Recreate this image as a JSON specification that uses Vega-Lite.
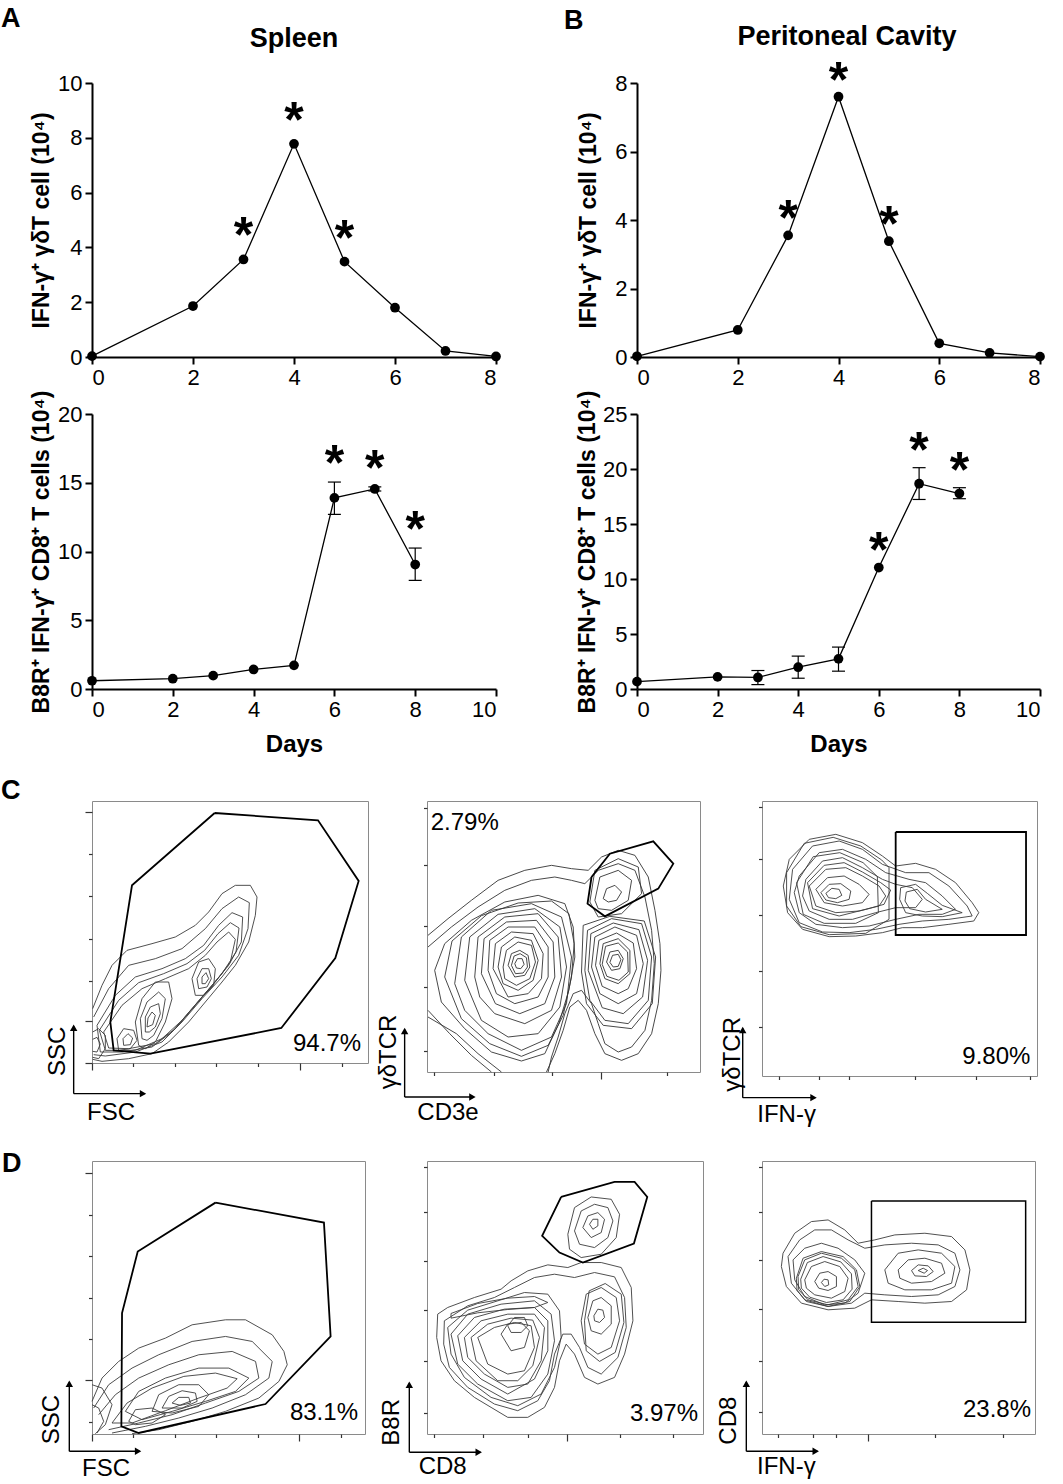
{
  "$schema": "https://vega.github.io/schema/vega-lite/v6.json",
  "padding": {"left": 0, "top": 5, "right": 5, "bottom": 5},
  "config": {
    "font": "Liberation Sans",
    "view": {"stroke": null},
    "axis": {"domainColor": "black", "domainWidth": 2, "tickColor": "black", "tickWidth": 2, "tickSize": 7, "labelFontSize": 22, "labelColor": "black", "labelPadding": 3, "titleFontSize": 23, "titleFontWeight": "bold", "titleColor": "black", "grid": false}
  },
  "datasets": {
    "spleen_g": [
      {"day": 0, "v": 0.03, "lo": 0.03, "hi": 0.03, "sig": false},
      {"day": 2, "v": 1.86, "lo": 1.86, "hi": 1.86, "sig": false},
      {"day": 3, "v": 3.56, "lo": 3.56, "hi": 3.56, "sig": true},
      {"day": 4, "v": 7.78, "lo": 7.78, "hi": 7.78, "sig": true},
      {"day": 5, "v": 3.48, "lo": 3.48, "hi": 3.48, "sig": true},
      {"day": 6, "v": 1.8, "lo": 1.8, "hi": 1.8, "sig": false},
      {"day": 7, "v": 0.22, "lo": 0.22, "hi": 0.22, "sig": false},
      {"day": 8, "v": 0.02, "lo": 0.02, "hi": 0.02, "sig": false}
    ],
    "spleen_c": [
      {"day": 0, "v": 0.6, "lo": 0.6, "hi": 0.6, "sig": false},
      {"day": 2, "v": 0.75, "lo": 0.75, "hi": 0.75, "sig": false},
      {"day": 3, "v": 0.97, "lo": 0.97, "hi": 0.97, "sig": false},
      {"day": 4, "v": 1.42, "lo": 1.42, "hi": 1.42, "sig": false},
      {"day": 5, "v": 1.72, "lo": 1.72, "hi": 1.72, "sig": false},
      {"day": 6, "v": 13.9, "lo": 12.7, "hi": 15.05, "sig": true},
      {"day": 7, "v": 14.55, "lo": 14.4, "hi": 14.7, "sig": true},
      {"day": 8, "v": 9.05, "lo": 7.9, "hi": 10.25, "sig": true}
    ],
    "pc_g": [
      {"day": 0, "v": 0.02, "lo": 0.02, "hi": 0.02, "sig": false},
      {"day": 2, "v": 0.79, "lo": 0.79, "hi": 0.79, "sig": false},
      {"day": 3, "v": 3.55, "lo": 3.55, "hi": 3.55, "sig": true},
      {"day": 4, "v": 7.6, "lo": 7.6, "hi": 7.6, "sig": true},
      {"day": 5, "v": 3.38, "lo": 3.38, "hi": 3.38, "sig": true},
      {"day": 6, "v": 0.4, "lo": 0.4, "hi": 0.4, "sig": false},
      {"day": 7, "v": 0.12, "lo": 0.12, "hi": 0.12, "sig": false},
      {"day": 8, "v": 0.01, "lo": 0.01, "hi": 0.01, "sig": false}
    ],
    "pc_c": [
      {"day": 0, "v": 0.67, "lo": 0.67, "hi": 0.67, "sig": false},
      {"day": 2, "v": 1.1, "lo": 1.1, "hi": 1.1, "sig": false},
      {"day": 3, "v": 1.05, "lo": 0.4, "hi": 1.68, "sig": false},
      {"day": 4, "v": 1.98, "lo": 0.98, "hi": 2.99, "sig": false},
      {"day": 5, "v": 2.74, "lo": 1.62, "hi": 3.81, "sig": false},
      {"day": 6, "v": 11.04, "lo": 11.04, "hi": 11.04, "sig": true},
      {"day": 7, "v": 18.66, "lo": 17.23, "hi": 20.12, "sig": true},
      {"day": 8, "v": 17.77, "lo": 17.3, "hi": 18.3, "sig": true}
    ],
    "gates": [
      {"p":"C1","x":658,"y":133},{"p":"C1","x":968,"y":155},{"p":"C1","x":1090,"y":337},{"p":"C1","x":1020,"y":568},{"p":"C1","x":858,"y":778},{"p":"C1","x":465,"y":855},{"p":"C1","x":355,"y":845},{"p":"C1","x":345,"y":760},{"p":"C1","x":372,"y":590},{"p":"C1","x":410,"y":350},{"p":"C1","x":658,"y":133},
      {"p":"C2","x":680,"y":320},{"p":"C2","x":735,"y":250},{"p":"C2","x":865,"y":213},{"p":"C2","x":925,"y":280},{"p":"C2","x":880,"y":355},{"p":"C2","x":720,"y":438},{"p":"C2","x":668,"y":400},{"p":"C2","x":680,"y":320},
      {"p":"C3","x":560,"y":178},{"p":"C3","x":952,"y":178},{"p":"C3","x":952,"y":487},{"p":"C3","x":560,"y":487},{"p":"C3","x":560,"y":178},
      {"p":"D1","x":670,"y":243},{"p":"D1","x":995,"y":303},{"p":"D1","x":1015,"y":645},{"p":"D1","x":820,"y":848},{"p":"D1","x":440,"y":935},{"p":"D1","x":388,"y":915},{"p":"D1","x":390,"y":575},{"p":"D1","x":437,"y":390},{"p":"D1","x":670,"y":243},
      {"p":"D2","x":580,"y":228},{"p":"D2","x":740,"y":183},{"p":"D2","x":800,"y":183},{"p":"D2","x":838,"y":228},{"p":"D2","x":798,"y":368},{"p":"D2","x":645,"y":425},{"p":"D2","x":575,"y":395},{"p":"D2","x":523,"y":345},{"p":"D2","x":580,"y":228},
      {"p":"D3","x":480,"y":243},{"p":"D3","x":942,"y":243},{"p":"D3","x":942,"y":607},{"p":"D3","x":480,"y":607},{"p":"D3","x":480,"y":243}
    ],
    "ct": [
      {"p":"C1","k":1,"x":292,"y":720},{"p":"C1","k":1,"x":320,"y":650},{"p":"C1","k":1,"x":350,"y":590},{"p":"C1","k":1,"x":395,"y":545},{"p":"C1","k":1,"x":470,"y":525},{"p":"C1","k":1,"x":540,"y":505},{"p":"C1","k":1,"x":600,"y":470},{"p":"C1","k":1,"x":640,"y":430},{"p":"C1","k":1,"x":680,"y":375},{"p":"C1","k":1,"x":720,"y":350},{"p":"C1","k":1,"x":765,"y":350},{"p":"C1","k":1,"x":785,"y":385},{"p":"C1","k":1,"x":780,"y":440},{"p":"C1","k":1,"x":760,"y":520},{"p":"C1","k":1,"x":720,"y":590},{"p":"C1","k":1,"x":680,"y":640},{"p":"C1","k":1,"x":630,"y":700},{"p":"C1","k":1,"x":580,"y":760},{"p":"C1","k":1,"x":520,"y":820},{"p":"C1","k":1,"x":470,"y":855},{"p":"C1","k":1,"x":400,"y":870},{"p":"C1","k":1,"x":320,"y":878},{"p":"C1","k":1,"x":292,"y":872},
      {"p":"C1","k":2,"x":295,"y":745},{"p":"C1","k":2,"x":340,"y":660},{"p":"C1","k":2,"x":400,"y":590},{"p":"C1","k":2,"x":480,"y":570},{"p":"C1","k":2,"x":560,"y":540},{"p":"C1","k":2,"x":630,"y":480},{"p":"C1","k":2,"x":680,"y":420},{"p":"C1","k":2,"x":730,"y":385},{"p":"C1","k":2,"x":762,"y":402},{"p":"C1","k":2,"x":758,"y":480},{"p":"C1","k":2,"x":730,"y":560},{"p":"C1","k":2,"x":680,"y":625},{"p":"C1","k":2,"x":620,"y":690},{"p":"C1","k":2,"x":560,"y":760},{"p":"C1","k":2,"x":500,"y":820},{"p":"C1","k":2,"x":420,"y":850},{"p":"C1","k":2,"x":330,"y":862},{"p":"C1","k":2,"x":295,"y":858},
      {"p":"C1","k":3,"x":305,"y":770},{"p":"C1","k":3,"x":360,"y":680},{"p":"C1","k":3,"x":420,"y":625},{"p":"C1","k":3,"x":500,"y":600},{"p":"C1","k":3,"x":570,"y":570},{"p":"C1","k":3,"x":625,"y":530},{"p":"C1","k":3,"x":670,"y":470},{"p":"C1","k":3,"x":710,"y":432},{"p":"C1","k":3,"x":742,"y":445},{"p":"C1","k":3,"x":738,"y":520},{"p":"C1","k":3,"x":700,"y":590},{"p":"C1","k":3,"x":650,"y":650},{"p":"C1","k":3,"x":590,"y":720},{"p":"C1","k":3,"x":530,"y":790},{"p":"C1","k":3,"x":470,"y":835},{"p":"C1","k":3,"x":380,"y":850},{"p":"C1","k":3,"x":315,"y":850},{"p":"C1","k":3,"x":305,"y":770},
      {"p":"C1","k":4,"x":325,"y":790},{"p":"C1","k":4,"x":380,"y":710},{"p":"C1","k":4,"x":440,"y":660},{"p":"C1","k":4,"x":510,"y":630},{"p":"C1","k":4,"x":580,"y":600},{"p":"C1","k":4,"x":630,"y":560},{"p":"C1","k":4,"x":665,"y":520},{"p":"C1","k":4,"x":700,"y":490},{"p":"C1","k":4,"x":720,"y":512},{"p":"C1","k":4,"x":705,"y":580},{"p":"C1","k":4,"x":660,"y":640},{"p":"C1","k":4,"x":600,"y":710},{"p":"C1","k":4,"x":540,"y":780},{"p":"C1","k":4,"x":480,"y":825},{"p":"C1","k":4,"x":400,"y":840},{"p":"C1","k":4,"x":340,"y":838},{"p":"C1","k":4,"x":325,"y":790},
      {"p":"C1","k":5,"x":430,"y":830},{"p":"C1","k":5,"x":420,"y":760},{"p":"C1","k":5,"x":440,"y":690},{"p":"C1","k":5,"x":480,"y":640},{"p":"C1","k":5,"x":520,"y":640},{"p":"C1","k":5,"x":530,"y":690},{"p":"C1","k":5,"x":510,"y":760},{"p":"C1","k":5,"x":480,"y":820},{"p":"C1","k":5,"x":450,"y":840},{"p":"C1","k":5,"x":430,"y":830},
      {"p":"C1","k":6,"x":440,"y":810},{"p":"C1","k":6,"x":435,"y":750},{"p":"C1","k":6,"x":455,"y":700},{"p":"C1","k":6,"x":490,"y":670},{"p":"C1","k":6,"x":510,"y":690},{"p":"C1","k":6,"x":500,"y":750},{"p":"C1","k":6,"x":475,"y":800},{"p":"C1","k":6,"x":455,"y":815},{"p":"C1","k":6,"x":440,"y":810},
      {"p":"C1","k":7,"x":450,"y":790},{"p":"C1","k":7,"x":450,"y":745},{"p":"C1","k":7,"x":465,"y":715},{"p":"C1","k":7,"x":490,"y":705},{"p":"C1","k":7,"x":495,"y":735},{"p":"C1","k":7,"x":480,"y":775},{"p":"C1","k":7,"x":462,"y":790},{"p":"C1","k":7,"x":450,"y":790},
      {"p":"C1","k":8,"x":455,"y":775},{"p":"C1","k":8,"x":458,"y":748},{"p":"C1","k":8,"x":470,"y":730},{"p":"C1","k":8,"x":480,"y":740},{"p":"C1","k":8,"x":472,"y":768},{"p":"C1","k":8,"x":455,"y":775},
      {"p":"C1","k":9,"x":600,"y":680},{"p":"C1","k":9,"x":590,"y":630},{"p":"C1","k":9,"x":610,"y":580},{"p":"C1","k":9,"x":640,"y":570},{"p":"C1","k":9,"x":660,"y":600},{"p":"C1","k":9,"x":655,"y":650},{"p":"C1","k":9,"x":625,"y":680},{"p":"C1","k":9,"x":600,"y":680},
      {"p":"C1","k":10,"x":610,"y":660},{"p":"C1","k":10,"x":605,"y":630},{"p":"C1","k":10,"x":620,"y":600},{"p":"C1","k":10,"x":640,"y":600},{"p":"C1","k":10,"x":648,"y":630},{"p":"C1","k":10,"x":635,"y":655},{"p":"C1","k":10,"x":610,"y":660},
      {"p":"C1","k":11,"x":620,"y":645},{"p":"C1","k":11,"x":620,"y":625},{"p":"C1","k":11,"x":632,"y":612},{"p":"C1","k":11,"x":640,"y":630},{"p":"C1","k":11,"x":630,"y":645},{"p":"C1","k":11,"x":620,"y":645},
      {"p":"C1","k":12,"x":370,"y":845},{"p":"C1","k":12,"x":365,"y":810},{"p":"C1","k":12,"x":385,"y":780},{"p":"C1","k":12,"x":415,"y":785},{"p":"C1","k":12,"x":425,"y":815},{"p":"C1","k":12,"x":405,"y":840},{"p":"C1","k":12,"x":370,"y":845},
      {"p":"C1","k":13,"x":385,"y":830},{"p":"C1","k":13,"x":383,"y":810},{"p":"C1","k":13,"x":398,"y":795},{"p":"C1","k":13,"x":412,"y":808},{"p":"C1","k":13,"x":405,"y":828},{"p":"C1","k":13,"x":385,"y":830},
      {"p":"C1","k":14,"x":292,"y":790},{"p":"C1","k":14,"x":310,"y":780},{"p":"C1","k":14,"x":330,"y":800},{"p":"C1","k":14,"x":330,"y":840},{"p":"C1","k":14,"x":310,"y":870},{"p":"C1","k":14,"x":292,"y":866},
      {"p":"C1","k":15,"x":292,"y":812},{"p":"C1","k":15,"x":305,"y":806},{"p":"C1","k":15,"x":315,"y":826},{"p":"C1","k":15,"x":305,"y":850},{"p":"C1","k":15,"x":292,"y":848},
      {"p":"C1","k":16,"x":312,"y":785},{"p":"C1","k":16,"x":370,"y":695},{"p":"C1","k":16,"x":430,"y":642},{"p":"C1","k":16,"x":505,"y":615},{"p":"C1","k":16,"x":575,"y":585},{"p":"C1","k":16,"x":628,"y":545},{"p":"C1","k":16,"x":668,"y":495},{"p":"C1","k":16,"x":705,"y":462},{"p":"C1","k":16,"x":731,"y":478},{"p":"C1","k":16,"x":722,"y":550},{"p":"C1","k":16,"x":680,"y":615},{"p":"C1","k":16,"x":620,"y":685},{"p":"C1","k":16,"x":560,"y":755},{"p":"C1","k":16,"x":500,"y":810},{"p":"C1","k":16,"x":420,"y":845},{"p":"C1","k":16,"x":330,"y":845},{"p":"C1","k":16,"x":312,"y":785},

      {"p":"C2","k":1,"x":190,"y":495},{"p":"C2","k":1,"x":250,"y":445},{"p":"C2","k":1,"x":320,"y":390},{"p":"C2","k":1,"x":400,"y":330},{"p":"C2","k":1,"x":480,"y":300},{"p":"C2","k":1,"x":560,"y":285},{"p":"C2","k":1,"x":620,"y":295},{"p":"C2","k":1,"x":670,"y":300},{"p":"C2","k":1,"x":710,"y":260},{"p":"C2","k":1,"x":760,"y":240},{"p":"C2","k":1,"x":810,"y":255},{"p":"C2","k":1,"x":850,"y":320},{"p":"C2","k":1,"x":870,"y":420},{"p":"C2","k":1,"x":885,"y":520},{"p":"C2","k":1,"x":888,"y":600},{"p":"C2","k":1,"x":880,"y":700},{"p":"C2","k":1,"x":860,"y":790},{"p":"C2","k":1,"x":820,"y":850},{"p":"C2","k":1,"x":770,"y":870},{"p":"C2","k":1,"x":720,"y":850},{"p":"C2","k":1,"x":690,"y":790},{"p":"C2","k":1,"x":665,"y":720},{"p":"C2","k":1,"x":640,"y":690},{"p":"C2","k":1,"x":615,"y":710},{"p":"C2","k":1,"x":595,"y":780},{"p":"C2","k":1,"x":570,"y":850},{"p":"C2","k":1,"x":545,"y":905},
      {"p":"C2","k":2,"x":380,"y":905},{"p":"C2","k":2,"x":320,"y":855},{"p":"C2","k":2,"x":255,"y":790},{"p":"C2","k":2,"x":190,"y":720},
      {"p":"C2","k":3,"x":190,"y":530},{"p":"C2","k":3,"x":260,"y":470},{"p":"C2","k":3,"x":340,"y":410},{"p":"C2","k":3,"x":420,"y":360},{"p":"C2","k":3,"x":500,"y":330},{"p":"C2","k":3,"x":570,"y":320},{"p":"C2","k":3,"x":620,"y":330},{"p":"C2","k":3,"x":660,"y":340},{"p":"C2","k":3,"x":700,"y":300},{"p":"C2","k":3,"x":760,"y":280},{"p":"C2","k":3,"x":810,"y":300},{"p":"C2","k":3,"x":840,"y":380},{"p":"C2","k":3,"x":860,"y":480},{"p":"C2","k":3,"x":868,"y":580},{"p":"C2","k":3,"x":860,"y":690},{"p":"C2","k":3,"x":840,"y":780},{"p":"C2","k":3,"x":800,"y":830},{"p":"C2","k":3,"x":760,"y":845},{"p":"C2","k":3,"x":720,"y":820},{"p":"C2","k":3,"x":700,"y":760},{"p":"C2","k":3,"x":680,"y":700},{"p":"C2","k":3,"x":650,"y":660},{"p":"C2","k":3,"x":625,"y":670},{"p":"C2","k":3,"x":600,"y":730},{"p":"C2","k":3,"x":580,"y":800},{"p":"C2","k":3,"x":560,"y":860},{"p":"C2","k":3,"x":550,"y":905},
      {"p":"C2","k":4,"x":410,"y":905},{"p":"C2","k":4,"x":340,"y":850},{"p":"C2","k":4,"x":275,"y":790},{"p":"C2","k":4,"x":190,"y":740},
      {"p":"C2","k":5,"x":270,"y":640},{"p":"C2","k":5,"x":290,"y":500},{"p":"C2","k":5,"x":380,"y":420},{"p":"C2","k":5,"x":500,"y":400},{"p":"C2","k":5,"x":590,"y":440},{"p":"C2","k":5,"x":620,"y":560},{"p":"C2","k":5,"x":605,"y":700},{"p":"C2","k":5,"x":560,"y":800},{"p":"C2","k":5,"x":470,"y":840},{"p":"C2","k":5,"x":370,"y":790},{"p":"C2","k":5,"x":300,"y":720},{"p":"C2","k":5,"x":270,"y":640},
      {"p":"C2","k":6,"x":330,"y":620},{"p":"C2","k":6,"x":340,"y":500},{"p":"C2","k":6,"x":420,"y":440},{"p":"C2","k":6,"x":520,"y":430},{"p":"C2","k":6,"x":580,"y":500},{"p":"C2","k":6,"x":590,"y":620},{"p":"C2","k":6,"x":560,"y":720},{"p":"C2","k":6,"x":480,"y":760},{"p":"C2","k":6,"x":390,"y":730},{"p":"C2","k":6,"x":345,"y":680},{"p":"C2","k":6,"x":330,"y":620},
      {"p":"C2","k":7,"x":370,"y":600},{"p":"C2","k":7,"x":375,"y":510},{"p":"C2","k":7,"x":430,"y":470},{"p":"C2","k":7,"x":510,"y":470},{"p":"C2","k":7,"x":550,"y":530},{"p":"C2","k":7,"x":550,"y":620},{"p":"C2","k":7,"x":520,"y":680},{"p":"C2","k":7,"x":450,"y":700},{"p":"C2","k":7,"x":395,"y":670},{"p":"C2","k":7,"x":370,"y":600},
      {"p":"C2","k":8,"x":400,"y":590},{"p":"C2","k":8,"x":410,"y":530},{"p":"C2","k":8,"x":450,"y":500},{"p":"C2","k":8,"x":500,"y":510},{"p":"C2","k":8,"x":520,"y":570},{"p":"C2","k":8,"x":505,"y":630},{"p":"C2","k":8,"x":460,"y":660},{"p":"C2","k":8,"x":415,"y":640},{"p":"C2","k":8,"x":400,"y":590},
      {"p":"C2","k":9,"x":430,"y":585},{"p":"C2","k":9,"x":440,"y":550},{"p":"C2","k":9,"x":465,"y":540},{"p":"C2","k":9,"x":490,"y":555},{"p":"C2","k":9,"x":495,"y":590},{"p":"C2","k":9,"x":480,"y":615},{"p":"C2","k":9,"x":450,"y":620},{"p":"C2","k":9,"x":430,"y":585},
      {"p":"C2","k":10,"x":450,"y":580},{"p":"C2","k":10,"x":458,"y":565},{"p":"C2","k":10,"x":472,"y":565},{"p":"C2","k":10,"x":478,"y":582},{"p":"C2","k":10,"x":468,"y":595},{"p":"C2","k":10,"x":455,"y":593},{"p":"C2","k":10,"x":450,"y":580},
      {"p":"C2","k":11,"x":660,"y":600},{"p":"C2","k":11,"x":668,"y":480},{"p":"C2","k":11,"x":740,"y":445},{"p":"C2","k":11,"x":830,"y":460},{"p":"C2","k":11,"x":860,"y":560},{"p":"C2","k":11,"x":850,"y":690},{"p":"C2","k":11,"x":790,"y":760},{"p":"C2","k":11,"x":720,"y":750},{"p":"C2","k":11,"x":675,"y":690},{"p":"C2","k":11,"x":660,"y":600},
      {"p":"C2","k":12,"x":680,"y":590},{"p":"C2","k":12,"x":690,"y":500},{"p":"C2","k":12,"x":750,"y":470},{"p":"C2","k":12,"x":815,"y":495},{"p":"C2","k":12,"x":835,"y":580},{"p":"C2","k":12,"x":815,"y":670},{"p":"C2","k":12,"x":760,"y":700},{"p":"C2","k":12,"x":705,"y":670},{"p":"C2","k":12,"x":680,"y":590},
      {"p":"C2","k":13,"x":705,"y":580},{"p":"C2","k":13,"x":715,"y":520},{"p":"C2","k":13,"x":760,"y":505},{"p":"C2","k":13,"x":795,"y":540},{"p":"C2","k":13,"x":795,"y":610},{"p":"C2","k":13,"x":760,"y":640},{"p":"C2","k":13,"x":720,"y":625},{"p":"C2","k":13,"x":705,"y":580},
      {"p":"C2","k":14,"x":725,"y":575},{"p":"C2","k":14,"x":735,"y":545},{"p":"C2","k":14,"x":760,"y":540},{"p":"C2","k":14,"x":775,"y":565},{"p":"C2","k":14,"x":765,"y":595},{"p":"C2","k":14,"x":740,"y":600},{"p":"C2","k":14,"x":725,"y":575},
      {"p":"C2","k":15,"x":675,"y":395},{"p":"C2","k":15,"x":690,"y":300},{"p":"C2","k":15,"x":760,"y":265},{"p":"C2","k":15,"x":820,"y":290},{"p":"C2","k":15,"x":830,"y":370},{"p":"C2","k":15,"x":770,"y":430},{"p":"C2","k":15,"x":700,"y":440},{"p":"C2","k":15,"x":675,"y":395},
      {"p":"C2","k":16,"x":690,"y":390},{"p":"C2","k":16,"x":705,"y":320},{"p":"C2","k":16,"x":760,"y":300},{"p":"C2","k":16,"x":800,"y":330},{"p":"C2","k":16,"x":790,"y":390},{"p":"C2","k":16,"x":740,"y":420},{"p":"C2","k":16,"x":700,"y":415},{"p":"C2","k":16,"x":690,"y":390},
      {"p":"C2","k":17,"x":715,"y":385},{"p":"C2","k":17,"x":725,"y":355},{"p":"C2","k":17,"x":750,"y":345},{"p":"C2","k":17,"x":770,"y":365},{"p":"C2","k":17,"x":755,"y":390},{"p":"C2","k":17,"x":730,"y":395},{"p":"C2","k":17,"x":715,"y":385},
      {"p":"C2","k":18,"x":210,"y":600},{"p":"C2","k":18,"x":240,"y":520},{"p":"C2","k":18,"x":320,"y":450},{"p":"C2","k":18,"x":420,"y":395},{"p":"C2","k":18,"x":520,"y":375},{"p":"C2","k":18,"x":600,"y":400},{"p":"C2","k":18,"x":625,"y":470},{"p":"C2","k":18,"x":630,"y":560},{"p":"C2","k":18,"x":612,"y":660},{"p":"C2","k":18,"x":582,"y":760},{"p":"C2","k":18,"x":540,"y":850},{"p":"C2","k":18,"x":470,"y":872},{"p":"C2","k":18,"x":380,"y":845},{"p":"C2","k":18,"x":300,"y":775},{"p":"C2","k":18,"x":230,"y":695},{"p":"C2","k":18,"x":210,"y":600},
      {"p":"C2","k":19,"x":300,"y":630},{"p":"C2","k":19,"x":315,"y":500},{"p":"C2","k":19,"x":400,"y":432},{"p":"C2","k":19,"x":510,"y":415},{"p":"C2","k":19,"x":585,"y":470},{"p":"C2","k":19,"x":605,"y":590},{"p":"C2","k":19,"x":585,"y":710},{"p":"C2","k":19,"x":520,"y":790},{"p":"C2","k":19,"x":430,"y":800},{"p":"C2","k":19,"x":350,"y":750},{"p":"C2","k":19,"x":300,"y":630},
      {"p":"C2","k":20,"x":670,"y":600},{"p":"C2","k":20,"x":678,"y":490},{"p":"C2","k":20,"x":745,"y":458},{"p":"C2","k":20,"x":822,"y":478},{"p":"C2","k":20,"x":848,"y":570},{"p":"C2","k":20,"x":833,"y":680},{"p":"C2","k":20,"x":775,"y":730},{"p":"C2","k":20,"x":712,"y":712},{"p":"C2","k":20,"x":670,"y":600},
      {"p":"C2","k":21,"x":350,"y":610},{"p":"C2","k":21,"x":358,"y":505},{"p":"C2","k":21,"x":425,"y":455},{"p":"C2","k":21,"x":515,"y":450},{"p":"C2","k":21,"x":565,"y":515},{"p":"C2","k":21,"x":570,"y":620},{"p":"C2","k":21,"x":540,"y":700},{"p":"C2","k":21,"x":465,"y":730},{"p":"C2","k":21,"x":392,"y":700},{"p":"C2","k":21,"x":350,"y":610},
      {"p":"C2","k":22,"x":385,"y":595},{"p":"C2","k":22,"x":392,"y":520},{"p":"C2","k":22,"x":440,"y":485},{"p":"C2","k":22,"x":505,"y":490},{"p":"C2","k":22,"x":535,"y":550},{"p":"C2","k":22,"x":530,"y":625},{"p":"C2","k":22,"x":490,"y":670},{"p":"C2","k":22,"x":430,"y":680},{"p":"C2","k":22,"x":385,"y":595},
      {"p":"C2","k":23,"x":692,"y":585},{"p":"C2","k":23,"x":702,"y":510},{"p":"C2","k":23,"x":755,"y":488},{"p":"C2","k":23,"x":805,"y":518},{"p":"C2","k":23,"x":815,"y":595},{"p":"C2","k":23,"x":790,"y":655},{"p":"C2","k":23,"x":760,"y":670},{"p":"C2","k":23,"x":712,"y":648},{"p":"C2","k":23,"x":692,"y":585},
      {"p":"C2","k":24,"x":240,"y":620},{"p":"C2","k":24,"x":262,"y":512},{"p":"C2","k":24,"x":350,"y":436},{"p":"C2","k":24,"x":460,"y":398},{"p":"C2","k":24,"x":560,"y":392},{"p":"C2","k":24,"x":612,"y":430},{"p":"C2","k":24,"x":628,"y":520},{"p":"C2","k":24,"x":620,"y":620},{"p":"C2","k":24,"x":595,"y":735},{"p":"C2","k":24,"x":550,"y":825},{"p":"C2","k":24,"x":470,"y":858},{"p":"C2","k":24,"x":375,"y":820},{"p":"C2","k":24,"x":290,"y":745},{"p":"C2","k":24,"x":240,"y":620},
      {"p":"C2","k":25,"x":415,"y":590},{"p":"C2","k":25,"x":425,"y":540},{"p":"C2","k":25,"x":460,"y":515},{"p":"C2","k":25,"x":500,"y":525},{"p":"C2","k":25,"x":512,"y":575},{"p":"C2","k":25,"x":495,"y":625},{"p":"C2","k":25,"x":455,"y":645},{"p":"C2","k":25,"x":420,"y":625},{"p":"C2","k":25,"x":415,"y":590},
      {"p":"C2","k":26,"x":440,"y":585},{"p":"C2","k":26,"x":448,"y":557},{"p":"C2","k":26,"x":466,"y":550},{"p":"C2","k":26,"x":485,"y":562},{"p":"C2","k":26,"x":488,"y":590},{"p":"C2","k":26,"x":475,"y":608},{"p":"C2","k":26,"x":452,"y":610},{"p":"C2","k":26,"x":440,"y":585},
      {"p":"C2","k":28,"x":712,"y":582},{"p":"C2","k":28,"x":722,"y":528},{"p":"C2","k":28,"x":760,"y":518},{"p":"C2","k":28,"x":788,"y":545},{"p":"C2","k":28,"x":790,"y":605},{"p":"C2","k":28,"x":762,"y":630},{"p":"C2","k":28,"x":726,"y":618},{"p":"C2","k":28,"x":712,"y":582},
      {"p":"C2","k":29,"x":735,"y":576},{"p":"C2","k":29,"x":743,"y":555},{"p":"C2","k":29,"x":760,"y":552},{"p":"C2","k":29,"x":768,"y":568},{"p":"C2","k":29,"x":760,"y":588},{"p":"C2","k":29,"x":745,"y":590},{"p":"C2","k":29,"x":735,"y":576},
      {"p":"C2","k":30,"x":650,"y":605},{"p":"C2","k":30,"x":655,"y":465},{"p":"C2","k":30,"x":735,"y":438},{"p":"C2","k":30,"x":838,"y":452},{"p":"C2","k":30,"x":872,"y":560},{"p":"C2","k":30,"x":862,"y":700},{"p":"C2","k":30,"x":800,"y":775},{"p":"C2","k":30,"x":715,"y":765},{"p":"C2","k":30,"x":665,"y":700},{"p":"C2","k":30,"x":650,"y":605},

      {"p":"C3","k":1,"x":240,"y":260},{"p":"C3","k":1,"x":300,"y":200},{"p":"C3","k":1,"x":380,"y":185},{"p":"C3","k":1,"x":460,"y":210},{"p":"C3","k":1,"x":520,"y":250},{"p":"C3","k":1,"x":560,"y":280},{"p":"C3","k":1,"x":620,"y":272},{"p":"C3","k":1,"x":680,"y":290},{"p":"C3","k":1,"x":740,"y":330},{"p":"C3","k":1,"x":790,"y":390},{"p":"C3","k":1,"x":810,"y":420},{"p":"C3","k":1,"x":795,"y":445},{"p":"C3","k":1,"x":720,"y":455},{"p":"C3","k":1,"x":640,"y":465},{"p":"C3","k":1,"x":580,"y":465},{"p":"C3","k":1,"x":520,"y":480},{"p":"C3","k":1,"x":440,"y":490},{"p":"C3","k":1,"x":360,"y":492},{"p":"C3","k":1,"x":280,"y":470},{"p":"C3","k":1,"x":235,"y":420},{"p":"C3","k":1,"x":222,"y":340},{"p":"C3","k":1,"x":240,"y":260},
      {"p":"C3","k":2,"x":250,"y":290},{"p":"C3","k":2,"x":310,"y":220},{"p":"C3","k":2,"x":390,"y":205},{"p":"C3","k":2,"x":460,"y":230},{"p":"C3","k":2,"x":520,"y":275},{"p":"C3","k":2,"x":590,"y":300},{"p":"C3","k":2,"x":660,"y":300},{"p":"C3","k":2,"x":720,"y":340},{"p":"C3","k":2,"x":775,"y":400},{"p":"C3","k":2,"x":790,"y":430},{"p":"C3","k":2,"x":720,"y":440},{"p":"C3","k":2,"x":640,"y":445},{"p":"C3","k":2,"x":570,"y":455},{"p":"C3","k":2,"x":500,"y":470},{"p":"C3","k":2,"x":420,"y":480},{"p":"C3","k":2,"x":340,"y":478},{"p":"C3","k":2,"x":270,"y":450},{"p":"C3","k":2,"x":240,"y":380},{"p":"C3","k":2,"x":250,"y":290},
      {"p":"C3","k":3,"x":270,"y":310},{"p":"C3","k":3,"x":330,"y":240},{"p":"C3","k":3,"x":400,"y":230},{"p":"C3","k":3,"x":470,"y":260},{"p":"C3","k":3,"x":530,"y":300},{"p":"C3","k":3,"x":600,"y":320},{"p":"C3","k":3,"x":650,"y":330},{"p":"C3","k":3,"x":700,"y":370},{"p":"C3","k":3,"x":740,"y":410},{"p":"C3","k":3,"x":700,"y":425},{"p":"C3","k":3,"x":630,"y":425},{"p":"C3","k":3,"x":560,"y":440},{"p":"C3","k":3,"x":480,"y":460},{"p":"C3","k":3,"x":400,"y":465},{"p":"C3","k":3,"x":320,"y":455},{"p":"C3","k":3,"x":270,"y":420},{"p":"C3","k":3,"x":255,"y":360},{"p":"C3","k":3,"x":270,"y":310},
      {"p":"C3","k":4,"x":290,"y":320},{"p":"C3","k":4,"x":340,"y":265},{"p":"C3","k":4,"x":400,"y":255},{"p":"C3","k":4,"x":460,"y":285},{"p":"C3","k":4,"x":520,"y":320},{"p":"C3","k":4,"x":560,"y":335},{"p":"C3","k":4,"x":610,"y":345},{"p":"C3","k":4,"x":640,"y":380},{"p":"C3","k":4,"x":620,"y":405},{"p":"C3","k":4,"x":560,"y":405},{"p":"C3","k":4,"x":500,"y":420},{"p":"C3","k":4,"x":430,"y":440},{"p":"C3","k":4,"x":360,"y":440},{"p":"C3","k":4,"x":300,"y":415},{"p":"C3","k":4,"x":280,"y":370},{"p":"C3","k":4,"x":290,"y":320},
      {"p":"C3","k":5,"x":300,"y":340},{"p":"C3","k":5,"x":350,"y":290},{"p":"C3","k":5,"x":410,"y":285},{"p":"C3","k":5,"x":460,"y":310},{"p":"C3","k":5,"x":510,"y":340},{"p":"C3","k":5,"x":530,"y":370},{"p":"C3","k":5,"x":510,"y":400},{"p":"C3","k":5,"x":450,"y":415},{"p":"C3","k":5,"x":380,"y":420},{"p":"C3","k":5,"x":320,"y":400},{"p":"C3","k":5,"x":300,"y":340},
      {"p":"C3","k":6,"x":320,"y":350},{"p":"C3","k":6,"x":355,"y":315},{"p":"C3","k":6,"x":405,"y":310},{"p":"C3","k":6,"x":450,"y":335},{"p":"C3","k":6,"x":480,"y":365},{"p":"C3","k":6,"x":460,"y":390},{"p":"C3","k":6,"x":400,"y":400},{"p":"C3","k":6,"x":345,"y":390},{"p":"C3","k":6,"x":320,"y":350},
      {"p":"C3","k":7,"x":335,"y":360},{"p":"C3","k":7,"x":360,"y":335},{"p":"C3","k":7,"x":395,"y":333},{"p":"C3","k":7,"x":425,"y":355},{"p":"C3","k":7,"x":420,"y":380},{"p":"C3","k":7,"x":385,"y":390},{"p":"C3","k":7,"x":350,"y":382},{"p":"C3","k":7,"x":335,"y":360},
      {"p":"C3","k":8,"x":350,"y":362},{"p":"C3","k":8,"x":368,"y":347},{"p":"C3","k":8,"x":390,"y":350},{"p":"C3","k":8,"x":398,"y":368},{"p":"C3","k":8,"x":380,"y":378},{"p":"C3","k":8,"x":358,"y":375},{"p":"C3","k":8,"x":350,"y":362},
      {"p":"C3","k":9,"x":575,"y":345},{"p":"C3","k":9,"x":620,"y":335},{"p":"C3","k":9,"x":655,"y":362},{"p":"C3","k":9,"x":700,"y":398},{"p":"C3","k":9,"x":760,"y":420},{"p":"C3","k":9,"x":700,"y":432},{"p":"C3","k":9,"x":640,"y":430},{"p":"C3","k":9,"x":590,"y":420},{"p":"C3","k":9,"x":572,"y":380},{"p":"C3","k":9,"x":575,"y":345},
      {"p":"C3","k":10,"x":592,"y":358},{"p":"C3","k":10,"x":625,"y":350},{"p":"C3","k":10,"x":650,"y":380},{"p":"C3","k":10,"x":700,"y":410},{"p":"C3","k":10,"x":650,"y":418},{"p":"C3","k":10,"x":602,"y":408},{"p":"C3","k":10,"x":588,"y":385},{"p":"C3","k":10,"x":592,"y":358},
      {"p":"C3","k":11,"x":232,"y":300},{"p":"C3","k":11,"x":285,"y":212},{"p":"C3","k":11,"x":372,"y":194},{"p":"C3","k":11,"x":455,"y":220},{"p":"C3","k":11,"x":518,"y":262},{"p":"C3","k":11,"x":540,"y":285},{"p":"C3","k":11,"x":540,"y":440},{"p":"C3","k":11,"x":470,"y":482},{"p":"C3","k":11,"x":360,"y":486},{"p":"C3","k":11,"x":275,"y":462},{"p":"C3","k":11,"x":232,"y":400},{"p":"C3","k":11,"x":232,"y":300},
      {"p":"C3","k":12,"x":262,"y":330},{"p":"C3","k":12,"x":312,"y":252},{"p":"C3","k":12,"x":392,"y":240},{"p":"C3","k":12,"x":462,"y":270},{"p":"C3","k":12,"x":505,"y":312},{"p":"C3","k":12,"x":508,"y":420},{"p":"C3","k":12,"x":440,"y":452},{"p":"C3","k":12,"x":345,"y":452},{"p":"C3","k":12,"x":282,"y":425},{"p":"C3","k":12,"x":262,"y":330},
      {"p":"C3","k":13,"x":295,"y":330},{"p":"C3","k":13,"x":345,"y":278},{"p":"C3","k":13,"x":405,"y":270},{"p":"C3","k":13,"x":460,"y":298},{"p":"C3","k":13,"x":515,"y":330},{"p":"C3","k":13,"x":545,"y":352},{"p":"C3","k":13,"x":525,"y":395},{"p":"C3","k":13,"x":470,"y":410},{"p":"C3","k":13,"x":390,"y":430},{"p":"C3","k":13,"x":310,"y":408},{"p":"C3","k":13,"x":295,"y":330},

      {"p":"D1","k":1,"x":300,"y":840},{"p":"D1","k":1,"x":330,"y":770},{"p":"D1","k":1,"x":380,"y":720},{"p":"D1","k":1,"x":440,"y":680},{"p":"D1","k":1,"x":520,"y":650},{"p":"D1","k":1,"x":600,"y":610},{"p":"D1","k":1,"x":700,"y":595},{"p":"D1","k":1,"x":760,"y":595},{"p":"D1","k":1,"x":840,"y":640},{"p":"D1","k":1,"x":875,"y":690},{"p":"D1","k":1,"x":885,"y":730},{"p":"D1","k":1,"x":860,"y":780},{"p":"D1","k":1,"x":800,"y":830},{"p":"D1","k":1,"x":700,"y":870},{"p":"D1","k":1,"x":600,"y":900},{"p":"D1","k":1,"x":500,"y":925},{"p":"D1","k":1,"x":420,"y":937},
      {"p":"D1","k":2,"x":305,"y":860},{"p":"D1","k":2,"x":350,"y":790},{"p":"D1","k":2,"x":420,"y":740},{"p":"D1","k":2,"x":500,"y":700},{"p":"D1","k":2,"x":600,"y":660},{"p":"D1","k":2,"x":700,"y":645},{"p":"D1","k":2,"x":780,"y":660},{"p":"D1","k":2,"x":840,"y":720},{"p":"D1","k":2,"x":830,"y":770},{"p":"D1","k":2,"x":760,"y":820},{"p":"D1","k":2,"x":660,"y":860},{"p":"D1","k":2,"x":560,"y":890},{"p":"D1","k":2,"x":460,"y":915},{"p":"D1","k":2,"x":360,"y":935},
      {"p":"D1","k":3,"x":320,"y":880},{"p":"D1","k":3,"x":370,"y":820},{"p":"D1","k":3,"x":440,"y":770},{"p":"D1","k":3,"x":530,"y":730},{"p":"D1","k":3,"x":620,"y":700},{"p":"D1","k":3,"x":720,"y":690},{"p":"D1","k":3,"x":790,"y":720},{"p":"D1","k":3,"x":800,"y":770},{"p":"D1","k":3,"x":740,"y":810},{"p":"D1","k":3,"x":640,"y":845},{"p":"D1","k":3,"x":540,"y":880},{"p":"D1","k":3,"x":440,"y":905},{"p":"D1","k":3,"x":350,"y":925},
      {"p":"D1","k":4,"x":400,"y":870},{"p":"D1","k":4,"x":440,"y":810},{"p":"D1","k":4,"x":520,"y":770},{"p":"D1","k":4,"x":620,"y":740},{"p":"D1","k":4,"x":710,"y":740},{"p":"D1","k":4,"x":770,"y":770},{"p":"D1","k":4,"x":730,"y":810},{"p":"D1","k":4,"x":640,"y":840},{"p":"D1","k":4,"x":540,"y":870},{"p":"D1","k":4,"x":450,"y":895},{"p":"D1","k":4,"x":400,"y":870},
      {"p":"D1","k":5,"x":480,"y":870},{"p":"D1","k":5,"x":500,"y":820},{"p":"D1","k":5,"x":560,"y":790},{"p":"D1","k":5,"x":620,"y":790},{"p":"D1","k":5,"x":650,"y":820},{"p":"D1","k":5,"x":620,"y":855},{"p":"D1","k":5,"x":540,"y":875},{"p":"D1","k":5,"x":480,"y":870},
      {"p":"D1","k":6,"x":510,"y":860},{"p":"D1","k":6,"x":530,"y":825},{"p":"D1","k":6,"x":570,"y":808},{"p":"D1","k":6,"x":610,"y":815},{"p":"D1","k":6,"x":615,"y":840},{"p":"D1","k":6,"x":570,"y":860},{"p":"D1","k":6,"x":510,"y":860},
      {"p":"D1","k":7,"x":540,"y":845},{"p":"D1","k":7,"x":560,"y":828},{"p":"D1","k":7,"x":590,"y":828},{"p":"D1","k":7,"x":595,"y":845},{"p":"D1","k":7,"x":565,"y":852},{"p":"D1","k":7,"x":540,"y":845},
      {"p":"D1","k":8,"x":410,"y":900},{"p":"D1","k":8,"x":430,"y":865},{"p":"D1","k":8,"x":480,"y":860},{"p":"D1","k":8,"x":520,"y":880},{"p":"D1","k":8,"x":480,"y":905},{"p":"D1","k":8,"x":430,"y":910},{"p":"D1","k":8,"x":410,"y":900},
      {"p":"D1","k":9,"x":300,"y":790},{"p":"D1","k":9,"x":330,"y":800},{"p":"D1","k":9,"x":360,"y":850},{"p":"D1","k":9,"x":340,"y":910},{"p":"D1","k":9,"x":310,"y":937},
      {"p":"D1","k":10,"x":300,"y":850},{"p":"D1","k":10,"x":320,"y":860},{"p":"D1","k":10,"x":335,"y":900},{"p":"D1","k":10,"x":315,"y":935},
      {"p":"D1","k":11,"x":360,"y":905},{"p":"D1","k":11,"x":405,"y":845},{"p":"D1","k":11,"x":480,"y":800},{"p":"D1","k":11,"x":575,"y":765},{"p":"D1","k":11,"x":670,"y":755},{"p":"D1","k":11,"x":735,"y":772},{"p":"D1","k":11,"x":705,"y":800},{"p":"D1","k":11,"x":620,"y":830},{"p":"D1","k":11,"x":520,"y":868},{"p":"D1","k":11,"x":420,"y":905},{"p":"D1","k":11,"x":360,"y":905},

      {"p":"D2","k":1,"x":210,"y":580},{"p":"D2","k":1,"x":240,"y":560},{"p":"D2","k":1,"x":320,"y":530},{"p":"D2","k":1,"x":400,"y":505},{"p":"D2","k":1,"x":430,"y":480},{"p":"D2","k":1,"x":480,"y":450},{"p":"D2","k":1,"x":540,"y":432},{"p":"D2","k":1,"x":600,"y":440},{"p":"D2","k":1,"x":640,"y":425},{"p":"D2","k":1,"x":700,"y":425},{"p":"D2","k":1,"x":760,"y":440},{"p":"D2","k":1,"x":790,"y":500},{"p":"D2","k":1,"x":795,"y":600},{"p":"D2","k":1,"x":770,"y":700},{"p":"D2","k":1,"x":740,"y":770},{"p":"D2","k":1,"x":690,"y":790},{"p":"D2","k":1,"x":650,"y":770},{"p":"D2","k":1,"x":620,"y":700},{"p":"D2","k":1,"x":595,"y":670},{"p":"D2","k":1,"x":575,"y":720},{"p":"D2","k":1,"x":560,"y":800},{"p":"D2","k":1,"x":530,"y":860},{"p":"D2","k":1,"x":480,"y":890},{"p":"D2","k":1,"x":420,"y":890},{"p":"D2","k":1,"x":370,"y":860},{"p":"D2","k":1,"x":320,"y":830},{"p":"D2","k":1,"x":260,"y":780},{"p":"D2","k":1,"x":220,"y":720},{"p":"D2","k":1,"x":207,"y":650},{"p":"D2","k":1,"x":210,"y":580},
      {"p":"D2","k":2,"x":230,"y":600},{"p":"D2","k":2,"x":300,"y":555},{"p":"D2","k":2,"x":380,"y":530},{"p":"D2","k":2,"x":440,"y":500},{"p":"D2","k":2,"x":500,"y":470},{"p":"D2","k":2,"x":560,"y":460},{"p":"D2","k":2,"x":620,"y":470},{"p":"D2","k":2,"x":680,"y":455},{"p":"D2","k":2,"x":740,"y":468},{"p":"D2","k":2,"x":770,"y":530},{"p":"D2","k":2,"x":775,"y":620},{"p":"D2","k":2,"x":750,"y":710},{"p":"D2","k":2,"x":700,"y":760},{"p":"D2","k":2,"x":660,"y":740},{"p":"D2","k":2,"x":635,"y":680},{"p":"D2","k":2,"x":610,"y":640},{"p":"D2","k":2,"x":585,"y":640},{"p":"D2","k":2,"x":560,"y":700},{"p":"D2","k":2,"x":545,"y":780},{"p":"D2","k":2,"x":510,"y":840},{"p":"D2","k":2,"x":450,"y":870},{"p":"D2","k":2,"x":380,"y":850},{"p":"D2","k":2,"x":300,"y":800},{"p":"D2","k":2,"x":245,"y":740},{"p":"D2","k":2,"x":228,"y":670},{"p":"D2","k":2,"x":230,"y":600},
      {"p":"D2","k":3,"x":250,"y":640},{"p":"D2","k":3,"x":300,"y":580},{"p":"D2","k":3,"x":400,"y":550},{"p":"D2","k":3,"x":500,"y":540},{"p":"D2","k":3,"x":550,"y":580},{"p":"D2","k":3,"x":560,"y":660},{"p":"D2","k":3,"x":540,"y":760},{"p":"D2","k":3,"x":490,"y":830},{"p":"D2","k":3,"x":420,"y":840},{"p":"D2","k":3,"x":330,"y":790},{"p":"D2","k":3,"x":270,"y":730},{"p":"D2","k":3,"x":250,"y":640},
      {"p":"D2","k":4,"x":290,"y":650},{"p":"D2","k":4,"x":340,"y":600},{"p":"D2","k":4,"x":420,"y":580},{"p":"D2","k":4,"x":500,"y":580},{"p":"D2","k":4,"x":530,"y":620},{"p":"D2","k":4,"x":520,"y":720},{"p":"D2","k":4,"x":480,"y":790},{"p":"D2","k":4,"x":420,"y":800},{"p":"D2","k":4,"x":350,"y":760},{"p":"D2","k":4,"x":300,"y":710},{"p":"D2","k":4,"x":290,"y":650},
      {"p":"D2","k":5,"x":330,"y":650},{"p":"D2","k":5,"x":380,"y":620},{"p":"D2","k":5,"x":440,"y":605},{"p":"D2","k":5,"x":490,"y":615},{"p":"D2","k":5,"x":500,"y":680},{"p":"D2","k":5,"x":470,"y":750},{"p":"D2","k":5,"x":420,"y":760},{"p":"D2","k":5,"x":360,"y":730},{"p":"D2","k":5,"x":330,"y":650},
      {"p":"D2","k":6,"x":420,"y":615},{"p":"D2","k":6,"x":440,"y":590},{"p":"D2","k":6,"x":470,"y":590},{"p":"D2","k":6,"x":480,"y":615},{"p":"D2","k":6,"x":460,"y":635},{"p":"D2","k":6,"x":430,"y":635},{"p":"D2","k":6,"x":420,"y":615},
      {"p":"D2","k":7,"x":640,"y":600},{"p":"D2","k":7,"x":655,"y":520},{"p":"D2","k":7,"x":700,"y":500},{"p":"D2","k":7,"x":745,"y":530},{"p":"D2","k":7,"x":755,"y":600},{"p":"D2","k":7,"x":730,"y":680},{"p":"D2","k":7,"x":690,"y":700},{"p":"D2","k":7,"x":650,"y":670},{"p":"D2","k":7,"x":640,"y":600},
      {"p":"D2","k":8,"x":660,"y":590},{"p":"D2","k":8,"x":675,"y":540},{"p":"D2","k":8,"x":700,"y":530},{"p":"D2","k":8,"x":730,"y":555},{"p":"D2","k":8,"x":730,"y":610},{"p":"D2","k":8,"x":700,"y":640},{"p":"D2","k":8,"x":670,"y":630},{"p":"D2","k":8,"x":660,"y":590},
      {"p":"D2","k":9,"x":678,"y":585},{"p":"D2","k":9,"x":690,"y":565},{"p":"D2","k":9,"x":705,"y":568},{"p":"D2","k":9,"x":710,"y":590},{"p":"D2","k":9,"x":695,"y":605},{"p":"D2","k":9,"x":680,"y":600},{"p":"D2","k":9,"x":678,"y":585},
      {"p":"D2","k":10,"x":600,"y":340},{"p":"D2","k":10,"x":620,"y":260},{"p":"D2","k":10,"x":670,"y":228},{"p":"D2","k":10,"x":730,"y":235},{"p":"D2","k":10,"x":755,"y":280},{"p":"D2","k":10,"x":745,"y":350},{"p":"D2","k":10,"x":700,"y":400},{"p":"D2","k":10,"x":640,"y":410},{"p":"D2","k":10,"x":605,"y":385},{"p":"D2","k":10,"x":600,"y":340},
      {"p":"D2","k":11,"x":620,"y":330},{"p":"D2","k":11,"x":640,"y":270},{"p":"D2","k":11,"x":680,"y":250},{"p":"D2","k":11,"x":720,"y":260},{"p":"D2","k":11,"x":735,"y":300},{"p":"D2","k":11,"x":720,"y":350},{"p":"D2","k":11,"x":680,"y":380},{"p":"D2","k":11,"x":635,"y":370},{"p":"D2","k":11,"x":620,"y":330},
      {"p":"D2","k":12,"x":645,"y":320},{"p":"D2","k":12,"x":660,"y":285},{"p":"D2","k":12,"x":690,"y":275},{"p":"D2","k":12,"x":710,"y":295},{"p":"D2","k":12,"x":700,"y":335},{"p":"D2","k":12,"x":670,"y":350},{"p":"D2","k":12,"x":645,"y":320},
      {"p":"D2","k":13,"x":665,"y":310},{"p":"D2","k":13,"x":675,"y":295},{"p":"D2","k":13,"x":690,"y":295},{"p":"D2","k":13,"x":690,"y":315},{"p":"D2","k":13,"x":675,"y":325},{"p":"D2","k":13,"x":665,"y":310},
      {"p":"D2","k":14,"x":240,"y":620},{"p":"D2","k":14,"x":300,"y":568},{"p":"D2","k":14,"x":390,"y":540},{"p":"D2","k":14,"x":470,"y":515},{"p":"D2","k":14,"x":540,"y":520},{"p":"D2","k":14,"x":575,"y":570},{"p":"D2","k":14,"x":580,"y":650},{"p":"D2","k":14,"x":560,"y":740},{"p":"D2","k":14,"x":520,"y":820},{"p":"D2","k":14,"x":450,"y":855},{"p":"D2","k":14,"x":370,"y":830},{"p":"D2","k":14,"x":290,"y":770},{"p":"D2","k":14,"x":250,"y":700},{"p":"D2","k":14,"x":240,"y":620},
      {"p":"D2","k":15,"x":250,"y":578},{"p":"D2","k":15,"x":330,"y":548},{"p":"D2","k":15,"x":420,"y":532},{"p":"D2","k":15,"x":500,"y":527},{"p":"D2","k":15,"x":540,"y":545},{"p":"D2","k":15,"x":500,"y":560},{"p":"D2","k":15,"x":420,"y":566},{"p":"D2","k":15,"x":330,"y":576},{"p":"D2","k":15,"x":250,"y":592},{"p":"D2","k":15,"x":250,"y":578},
      {"p":"D2","k":16,"x":650,"y":600},{"p":"D2","k":16,"x":664,"y":510},{"p":"D2","k":16,"x":712,"y":488},{"p":"D2","k":16,"x":760,"y":520},{"p":"D2","k":16,"x":768,"y":605},{"p":"D2","k":16,"x":742,"y":695},{"p":"D2","k":16,"x":695,"y":722},{"p":"D2","k":16,"x":655,"y":690},{"p":"D2","k":16,"x":650,"y":600},
      {"p":"D2","k":17,"x":270,"y":645},{"p":"D2","k":17,"x":320,"y":590},{"p":"D2","k":17,"x":410,"y":565},{"p":"D2","k":17,"x":500,"y":560},{"p":"D2","k":17,"x":540,"y":600},{"p":"D2","k":17,"x":540,"y":690},{"p":"D2","k":17,"x":500,"y":775},{"p":"D2","k":17,"x":420,"y":820},{"p":"D2","k":17,"x":340,"y":775},{"p":"D2","k":17,"x":285,"y":720},{"p":"D2","k":17,"x":270,"y":645},
      {"p":"D2","k":18,"x":310,"y":650},{"p":"D2","k":18,"x":360,"y":610},{"p":"D2","k":18,"x":430,"y":592},{"p":"D2","k":18,"x":495,"y":598},{"p":"D2","k":18,"x":515,"y":650},{"p":"D2","k":18,"x":495,"y":735},{"p":"D2","k":18,"x":450,"y":780},{"p":"D2","k":18,"x":390,"y":780},{"p":"D2","k":18,"x":325,"y":720},{"p":"D2","k":18,"x":310,"y":650},
      {"p":"D2","k":19,"x":400,"y":640},{"p":"D2","k":19,"x":420,"y":610},{"p":"D2","k":19,"x":460,"y":605},{"p":"D2","k":19,"x":485,"y":630},{"p":"D2","k":19,"x":470,"y":680},{"p":"D2","k":19,"x":430,"y":690},{"p":"D2","k":19,"x":400,"y":640},

      {"p":"D3","k":1,"x":215,"y":400},{"p":"D3","k":1,"x":250,"y":340},{"p":"D3","k":1,"x":300,"y":305},{"p":"D3","k":1,"x":350,"y":300},{"p":"D3","k":1,"x":400,"y":330},{"p":"D3","k":1,"x":440,"y":370},{"p":"D3","k":1,"x":490,"y":360},{"p":"D3","k":1,"x":550,"y":345},{"p":"D3","k":1,"x":640,"y":340},{"p":"D3","k":1,"x":720,"y":350},{"p":"D3","k":1,"x":760,"y":390},{"p":"D3","k":1,"x":775,"y":450},{"p":"D3","k":1,"x":765,"y":510},{"p":"D3","k":1,"x":720,"y":545},{"p":"D3","k":1,"x":640,"y":550},{"p":"D3","k":1,"x":560,"y":545},{"p":"D3","k":1,"x":480,"y":540},{"p":"D3","k":1,"x":430,"y":565},{"p":"D3","k":1,"x":350,"y":570},{"p":"D3","k":1,"x":270,"y":550},{"p":"D3","k":1,"x":225,"y":500},{"p":"D3","k":1,"x":210,"y":440},{"p":"D3","k":1,"x":215,"y":400},
      {"p":"D3","k":2,"x":230,"y":410},{"p":"D3","k":2,"x":265,"y":360},{"p":"D3","k":2,"x":310,"y":330},{"p":"D3","k":2,"x":360,"y":330},{"p":"D3","k":2,"x":410,"y":360},{"p":"D3","k":2,"x":460,"y":385},{"p":"D3","k":2,"x":520,"y":375},{"p":"D3","k":2,"x":600,"y":370},{"p":"D3","k":2,"x":680,"y":375},{"p":"D3","k":2,"x":730,"y":400},{"p":"D3","k":2,"x":745,"y":450},{"p":"D3","k":2,"x":730,"y":500},{"p":"D3","k":2,"x":680,"y":525},{"p":"D3","k":2,"x":600,"y":530},{"p":"D3","k":2,"x":520,"y":525},{"p":"D3","k":2,"x":460,"y":520},{"p":"D3","k":2,"x":420,"y":550},{"p":"D3","k":2,"x":350,"y":560},{"p":"D3","k":2,"x":280,"y":540},{"p":"D3","k":2,"x":240,"y":490},{"p":"D3","k":2,"x":230,"y":410},
      {"p":"D3","k":3,"x":245,"y":420},{"p":"D3","k":3,"x":280,"y":385},{"p":"D3","k":3,"x":330,"y":370},{"p":"D3","k":3,"x":380,"y":385},{"p":"D3","k":3,"x":430,"y":420},{"p":"D3","k":3,"x":460,"y":460},{"p":"D3","k":3,"x":440,"y":520},{"p":"D3","k":3,"x":400,"y":550},{"p":"D3","k":3,"x":340,"y":555},{"p":"D3","k":3,"x":280,"y":530},{"p":"D3","k":3,"x":250,"y":480},{"p":"D3","k":3,"x":245,"y":420},
      {"p":"D3","k":4,"x":260,"y":470},{"p":"D3","k":4,"x":280,"y":420},{"p":"D3","k":4,"x":330,"y":400},{"p":"D3","k":4,"x":390,"y":415},{"p":"D3","k":4,"x":430,"y":450},{"p":"D3","k":4,"x":440,"y":500},{"p":"D3","k":4,"x":410,"y":540},{"p":"D3","k":4,"x":350,"y":555},{"p":"D3","k":4,"x":290,"y":540},{"p":"D3","k":4,"x":262,"y":510},{"p":"D3","k":4,"x":260,"y":470},
      {"p":"D3","k":5,"x":280,"y":480},{"p":"D3","k":5,"x":300,"y":440},{"p":"D3","k":5,"x":340,"y":425},{"p":"D3","k":5,"x":385,"y":440},{"p":"D3","k":5,"x":410,"y":475},{"p":"D3","k":5,"x":400,"y":515},{"p":"D3","k":5,"x":360,"y":535},{"p":"D3","k":5,"x":310,"y":525},{"p":"D3","k":5,"x":285,"y":505},{"p":"D3","k":5,"x":280,"y":480},
      {"p":"D3","k":6,"x":310,"y":485},{"p":"D3","k":6,"x":325,"y":460},{"p":"D3","k":6,"x":350,"y":455},{"p":"D3","k":6,"x":375,"y":470},{"p":"D3","k":6,"x":375,"y":500},{"p":"D3","k":6,"x":350,"y":512},{"p":"D3","k":6,"x":322,"y":505},{"p":"D3","k":6,"x":310,"y":485},
      {"p":"D3","k":7,"x":330,"y":488},{"p":"D3","k":7,"x":338,"y":478},{"p":"D3","k":7,"x":350,"y":480},{"p":"D3","k":7,"x":352,"y":495},{"p":"D3","k":7,"x":340,"y":500},{"p":"D3","k":7,"x":330,"y":488},
      {"p":"D3","k":8,"x":520,"y":450},{"p":"D3","k":8,"x":560,"y":400},{"p":"D3","k":8,"x":620,"y":390},{"p":"D3","k":8,"x":690,"y":400},{"p":"D3","k":8,"x":730,"y":440},{"p":"D3","k":8,"x":720,"y":490},{"p":"D3","k":8,"x":660,"y":510},{"p":"D3","k":8,"x":580,"y":510},{"p":"D3","k":8,"x":530,"y":490},{"p":"D3","k":8,"x":520,"y":450},
      {"p":"D3","k":9,"x":560,"y":450},{"p":"D3","k":9,"x":590,"y":420},{"p":"D3","k":9,"x":640,"y":415},{"p":"D3","k":9,"x":690,"y":430},{"p":"D3","k":9,"x":700,"y":460},{"p":"D3","k":9,"x":660,"y":485},{"p":"D3","k":9,"x":600,"y":490},{"p":"D3","k":9,"x":565,"y":475},{"p":"D3","k":9,"x":560,"y":450},
      {"p":"D3","k":10,"x":600,"y":452},{"p":"D3","k":10,"x":620,"y":435},{"p":"D3","k":10,"x":650,"y":438},{"p":"D3","k":10,"x":665,"y":455},{"p":"D3","k":10,"x":645,"y":470},{"p":"D3","k":10,"x":610,"y":468},{"p":"D3","k":10,"x":600,"y":452},
      {"p":"D3","k":11,"x":620,"y":452},{"p":"D3","k":11,"x":635,"y":445},{"p":"D3","k":11,"x":648,"y":452},{"p":"D3","k":11,"x":638,"y":460},{"p":"D3","k":11,"x":620,"y":452},
      {"p":"D3","k":12,"x":255,"y":475},{"p":"D3","k":12,"x":275,"y":415},{"p":"D3","k":12,"x":330,"y":395},{"p":"D3","k":12,"x":395,"y":410},{"p":"D3","k":12,"x":435,"y":450},{"p":"D3","k":12,"x":445,"y":500},{"p":"D3","k":12,"x":415,"y":545},{"p":"D3","k":12,"x":350,"y":560},{"p":"D3","k":12,"x":285,"y":545},{"p":"D3","k":12,"x":257,"y":512},{"p":"D3","k":12,"x":255,"y":475},
      {"p":"D3","k":13,"x":268,"y":478},{"p":"D3","k":13,"x":288,"y":428},{"p":"D3","k":13,"x":335,"y":410},{"p":"D3","k":13,"x":388,"y":426},{"p":"D3","k":13,"x":420,"y":462},{"p":"D3","k":13,"x":422,"y":508},{"p":"D3","k":13,"x":395,"y":540},{"p":"D3","k":13,"x":345,"y":548},{"p":"D3","k":13,"x":295,"y":532},{"p":"D3","k":13,"x":270,"y":505},{"p":"D3","k":13,"x":268,"y":478}
    ]
  },
  "spacing": 20,
  "vconcat": [
    {
      "columns": 2,
      "bounds": "flush",
      "spacing": {"row": 57, "column": 141},
      "concat": [
        {
          "width": 404, "height": 274,
          "data": {"name": "spleen_g"},
          "layer": [
            {"mark": {"type": "line", "color": "black", "strokeWidth": 1.3},
             "encoding": {
               "x": {"field": "day", "type": "quantitative", "title": null, "scale": {"domain": [0, 8], "nice": false}, "axis": {"values": [0, 2, 4, 6, 8]}},
               "y": {"field": "v", "type": "quantitative", "scale": {"domain": [0, 10], "nice": false}, "axis": {"values": [0, 2, 4, 6, 8, 10], "titlePadding": 4}, "title": "IFN-γ⁺ γδT cell (10⁴)"}}},
            {"mark": {"type": "point", "filled": true, "color": "black", "size": 95, "opacity": 1},
             "encoding": {"x": {"field": "day", "type": "quantitative", "title": null}, "y": {"field": "v", "type": "quantitative", "title": "IFN-γ⁺ γδT cell (10⁴)"}}},
            {"transform": [{"filter": "datum.sig"}],
             "mark": {"type": "text", "text": "*", "fontSize": 50, "fontWeight": "bold", "align": "center", "baseline": "alphabetic", "dy": -7},
             "encoding": {"x": {"field": "day", "type": "quantitative", "title": null}, "y": {"field": "hi", "type": "quantitative", "title": "IFN-γ⁺ γδT cell (10⁴)"}}},
            {"data": {"values": [{}]},
             "mark": {"type": "text", "text": "Spleen", "fontSize": 27, "fontWeight": "bold", "align": "center", "baseline": "alphabetic"},
             "encoding": {"x": {"datum": 4}, "y": {"datum": 11.31}}},
            {"data": {"values": [{}]},
             "mark": {"type": "text", "text": "A", "fontSize": 27, "fontWeight": "bold", "align": "left", "baseline": "top"},
             "encoding": {"x": {"datum": -1.8}, "y": {"datum": 12.81}}}
          ]
        },
        {
          "width": 403, "height": 274,
          "data": {"name": "pc_g"},
          "layer": [
            {"mark": {"type": "line", "color": "black", "strokeWidth": 1.3},
             "encoding": {
               "x": {"field": "day", "type": "quantitative", "title": null, "scale": {"domain": [0, 8], "nice": false}, "axis": {"values": [0, 2, 4, 6, 8]}},
               "y": {"field": "v", "type": "quantitative", "scale": {"domain": [0, 8], "nice": false}, "axis": {"values": [0, 2, 4, 6, 8], "titlePadding": 14}, "title": "IFN-γ⁺ γδT cell (10⁴)"}}},
            {"mark": {"type": "point", "filled": true, "color": "black", "size": 95, "opacity": 1},
             "encoding": {"x": {"field": "day", "type": "quantitative", "title": null}, "y": {"field": "v", "type": "quantitative", "title": "IFN-γ⁺ γδT cell (10⁴)"}}},
            {"transform": [{"filter": "datum.sig"}],
             "mark": {"type": "text", "text": "*", "fontSize": 50, "fontWeight": "bold", "align": "center", "baseline": "alphabetic", "dy": 0},
             "encoding": {"x": {"field": "day", "type": "quantitative", "title": null}, "y": {"field": "hi", "type": "quantitative", "title": "IFN-γ⁺ γδT cell (10⁴)"}}},
            {"data": {"values": [{}]},
             "mark": {"type": "text", "text": "Peritoneal Cavity", "fontSize": 27, "fontWeight": "bold", "align": "center", "baseline": "alphabetic"},
             "encoding": {"x": {"datum": 4.17}, "y": {"datum": 9.11}}},
            {"data": {"values": [{}]},
             "mark": {"type": "text", "text": "B", "fontSize": 27, "fontWeight": "bold", "align": "left", "baseline": "top"},
             "encoding": {"x": {"datum": -1.45}, "y": {"datum": 10.19}}}
          ]
        },
        {
          "width": 404, "height": 275,
          "data": {"name": "spleen_c"},
          "layer": [
            {"mark": {"type": "line", "color": "black", "strokeWidth": 1.3},
             "encoding": {
               "x": {"field": "day", "type": "quantitative", "title": "Days", "scale": {"domain": [0, 10], "nice": false}, "axis": {"values": [0, 2, 4, 6, 8, 10], "titleFontSize": 24, "titlePadding": 12}},
               "y": {"field": "v", "type": "quantitative", "scale": {"domain": [0, 20], "nice": false}, "axis": {"values": [0, 5, 10, 15, 20], "titlePadding": 4}, "title": "B8R⁺ IFN-γ⁺ CD8⁺ T cells (10⁴)"}}},
            {"transform": [{"filter": "datum.hi > datum.lo"}],
             "mark": {"type": "rule", "color": "black", "strokeWidth": 1.2},
             "encoding": {"x": {"field": "day", "type": "quantitative", "title": "Days"}, "y": {"field": "lo", "type": "quantitative", "title": "B8R⁺ IFN-γ⁺ CD8⁺ T cells (10⁴)"}, "y2": {"field": "hi"}}},
            {"transform": [{"filter": "datum.hi > datum.lo"}],
             "mark": {"type": "tick", "color": "black", "size": 13, "thickness": 1.2, "orient": "horizontal", "opacity": 1},
             "encoding": {"x": {"field": "day", "type": "quantitative", "title": "Days"}, "y": {"field": "lo", "type": "quantitative", "title": "B8R⁺ IFN-γ⁺ CD8⁺ T cells (10⁴)"}}},
            {"transform": [{"filter": "datum.hi > datum.lo"}],
             "mark": {"type": "tick", "color": "black", "size": 13, "thickness": 1.2, "orient": "horizontal", "opacity": 1},
             "encoding": {"x": {"field": "day", "type": "quantitative", "title": "Days"}, "y": {"field": "hi", "type": "quantitative", "title": "B8R⁺ IFN-γ⁺ CD8⁺ T cells (10⁴)"}}},
            {"mark": {"type": "point", "filled": true, "color": "black", "size": 95, "opacity": 1},
             "encoding": {"x": {"field": "day", "type": "quantitative", "title": "Days"}, "y": {"field": "v", "type": "quantitative", "title": "B8R⁺ IFN-γ⁺ CD8⁺ T cells (10⁴)"}}},
            {"transform": [{"filter": "datum.sig"}],
             "mark": {"type": "text", "text": "*", "fontSize": 50, "fontWeight": "bold", "align": "center", "baseline": "alphabetic", "dy": -2},
             "encoding": {"x": {"field": "day", "type": "quantitative", "title": "Days"}, "y": {"field": "hi", "type": "quantitative", "title": "B8R⁺ IFN-γ⁺ CD8⁺ T cells (10⁴)"}}}
          ]
        },
        {
          "width": 403, "height": 275,
          "data": {"name": "pc_c"},
          "layer": [
            {"mark": {"type": "line", "color": "black", "strokeWidth": 1.3},
             "encoding": {
               "x": {"field": "day", "type": "quantitative", "title": "Days", "scale": {"domain": [0, 10], "nice": false}, "axis": {"values": [0, 2, 4, 6, 8, 10], "titleFontSize": 24, "titlePadding": 12}},
               "y": {"field": "v", "type": "quantitative", "scale": {"domain": [0, 25], "nice": false}, "axis": {"values": [0, 5, 10, 15, 20, 25], "titlePadding": 3}, "title": "B8R⁺ IFN-γ⁺ CD8⁺ T cells (10⁴)"}}},
            {"transform": [{"filter": "datum.hi > datum.lo"}],
             "mark": {"type": "rule", "color": "black", "strokeWidth": 1.2},
             "encoding": {"x": {"field": "day", "type": "quantitative", "title": "Days"}, "y": {"field": "lo", "type": "quantitative", "title": "B8R⁺ IFN-γ⁺ CD8⁺ T cells (10⁴)"}, "y2": {"field": "hi"}}},
            {"transform": [{"filter": "datum.hi > datum.lo"}],
             "mark": {"type": "tick", "color": "black", "size": 13, "thickness": 1.2, "orient": "horizontal", "opacity": 1},
             "encoding": {"x": {"field": "day", "type": "quantitative", "title": "Days"}, "y": {"field": "lo", "type": "quantitative", "title": "B8R⁺ IFN-γ⁺ CD8⁺ T cells (10⁴)"}}},
            {"transform": [{"filter": "datum.hi > datum.lo"}],
             "mark": {"type": "tick", "color": "black", "size": 13, "thickness": 1.2, "orient": "horizontal", "opacity": 1},
             "encoding": {"x": {"field": "day", "type": "quantitative", "title": "Days"}, "y": {"field": "hi", "type": "quantitative", "title": "B8R⁺ IFN-γ⁺ CD8⁺ T cells (10⁴)"}}},
            {"mark": {"type": "point", "filled": true, "color": "black", "size": 95, "opacity": 1},
             "encoding": {"x": {"field": "day", "type": "quantitative", "title": "Days"}, "y": {"field": "v", "type": "quantitative", "title": "B8R⁺ IFN-γ⁺ CD8⁺ T cells (10⁴)"}}},
            {"transform": [{"filter": "datum.sig"}],
             "mark": {"type": "text", "text": "*", "fontSize": 50, "fontWeight": "bold", "align": "center", "baseline": "alphabetic", "dy": -1},
             "encoding": {"x": {"field": "day", "type": "quantitative", "title": "Days"}, "y": {"field": "hi", "type": "quantitative", "title": "B8R⁺ IFN-γ⁺ CD8⁺ T cells (10⁴)"}}}
          ]
        }
      ]
    },
    {
      "columns": 3,
      "bounds": "flush",
      "align": {"row": "each", "column": "none"},
      "spacing": {"row": 85, "column": 59},
      "concat": [
        {
          "width": 276, "height": 262,
          "view": {"stroke": "#8a8a8a", "strokeWidth": 1},
          "layer": [
            {"data": {"name": "ct"},
             "transform": [{"filter": "datum.p == 'C1'"}, {"window": [{"op": "row_number", "as": "i"}]}],
             "mark": {"type": "line", "stroke": "#3c3c3c", "strokeWidth": 0.9},
             "encoding": {
               "x": {"field": "x", "type": "quantitative", "title": null, "scale": {"domain": [290, 1118], "nice": false, "zero": false},
                     "axis": {"values": [290,321,352,383,414,445,476,507,538,569,600,631,663,694,726,757,789,820,852,883,915,947,978,1010,1041,1073,1104], "labels": false, "domain": false, "tickColor": "#333", "tickWidth": 1.2,
                              "tickSize": {"condition": {"test": "indexof([290,445,600,757,915,1073], datum.value) >= 0", "value": 7}, "value": 3.5}}},
               "y": {"field": "y", "type": "quantitative", "title": null, "scale": {"domain": [97, 883], "nice": false, "zero": false, "reverse": true},
                     "axis": {"values": [130,161,193,225,256,288,320,351,383,415,447,479,510,542,573,605,636,666,697,727,758,789,820,852,883], "labels": false, "domain": false, "tickColor": "#333", "tickWidth": 1.2,
                              "tickSize": {"condition": {"test": "indexof([130,288,447,605,758,883], datum.value) >= 0", "value": 7}, "value": 3.5}}},
               "detail": {"field": "k", "type": "nominal"},
               "order": {"field": "i", "type": "quantitative"}
             }},
            {"data": {"name": "gates"},
             "transform": [{"filter": "datum.p == 'C1'"}, {"window": [{"op": "row_number", "as": "i"}]}],
             "mark": {"type": "line", "stroke": "black", "strokeWidth": 1.8},
             "encoding": {"x": {"field": "x", "type": "quantitative", "title": null}, "y": {"field": "y", "type": "quantitative", "title": null}, "order": {"field": "i", "type": "quantitative"}}},
            {"data": {"values": [{}]}, "mark": {"type": "text", "text": "94.7%", "fontSize": 24, "align": "right", "baseline": "alphabetic"}, "encoding": {"x": {"datum": 1097}, "y": {"datum": 848}}},
            {"data": {"values": [{}]}, "mark": {"type": "rule", "color": "black", "strokeWidth": 1.4}, "encoding": {"x": {"datum": 235}, "y": {"datum": 975}, "y2": {"datum": 772}}},
            {"data": {"values": [{}]}, "mark": {"type": "rule", "color": "black", "strokeWidth": 1.4}, "encoding": {"x": {"datum": 235}, "x2": {"datum": 448}, "y": {"datum": 975}}},
            {"data": {"values": [{}]}, "mark": {"type": "point", "shape": "triangle-up", "filled": true, "color": "black", "size": 55, "opacity": 1}, "encoding": {"x": {"datum": 235}, "y": {"datum": 777}}},
            {"data": {"values": [{}]}, "mark": {"type": "point", "shape": "triangle-right", "filled": true, "color": "black", "size": 55, "opacity": 1}, "encoding": {"x": {"datum": 443}, "y": {"datum": 975}}},
            {"data": {"values": [{}]}, "mark": {"type": "text", "text": "SSC", "fontSize": 24, "angle": 270, "align": "center", "baseline": "middle"}, "encoding": {"x": {"datum": 187}, "y": {"datum": 848}}},
            {"data": {"values": [{}]}, "mark": {"type": "text", "text": "FSC", "fontSize": 24, "align": "center", "baseline": "middle"}, "encoding": {"x": {"datum": 347}, "y": {"datum": 1032}}},
            {"data": {"values": [{}]}, "mark": {"type": "text", "text": "C", "fontSize": 27, "fontWeight": "bold", "align": "left", "baseline": "top"}, "encoding": {"x": {"datum": 17}, "y": {"datum": 28}}}
          ]
        },
        {
          "width": 273, "height": 271,
          "view": {"stroke": "#8a8a8a", "strokeWidth": 1},
          "layer": [
            {"data": {"name": "ct"},
             "transform": [{"filter": "datum.p == 'C2'"}, {"window": [{"op": "row_number", "as": "i"}]}],
             "mark": {"type": "line", "stroke": "#333333", "strokeWidth": 0.9},
             "encoding": {
               "x": {"field": "x", "type": "quantitative", "title": null, "scale": {"domain": [187, 1005], "nice": false, "zero": false},
                     "axis": {"values": [207,227,244,258,270,280,290,353,389,415,435,452,466,478,488,500,563,599,625,645,662,676,688,698,708,771,807,833,853,870,884,896,906,915,978], "labels": false, "domain": false, "tickColor": "#333", "tickWidth": 1.2,
                              "tickSize": {"condition": {"test": "indexof([290,500,708,915], datum.value) >= 0", "value": 7}, "value": 3.5}}},
               "y": {"field": "y", "type": "quantitative", "title": null, "scale": {"domain": [92, 905], "nice": false, "zero": false, "reverse": true},
                     "axis": {"values": [113,175,185,195,207,221,237,258,283,320,382,393,403,415,429,445,466,491,528,590,598,608,620,634,650,671,696,733,795,805,815,827,841,857,878], "labels": false, "domain": false, "tickColor": "#333", "tickWidth": 1.2,
                              "tickSize": {"condition": {"test": "indexof([175,382,590,795], datum.value) >= 0", "value": 7}, "value": 3.5}}},
               "detail": {"field": "k", "type": "nominal"},
               "order": {"field": "i", "type": "quantitative"}
             }},
            {"data": {"name": "gates"},
             "transform": [{"filter": "datum.p == 'C2'"}, {"window": [{"op": "row_number", "as": "i"}]}],
             "mark": {"type": "line", "stroke": "black", "strokeWidth": 1.8},
             "encoding": {"x": {"field": "x", "type": "quantitative", "title": null}, "y": {"field": "y", "type": "quantitative", "title": null}, "order": {"field": "i", "type": "quantitative"}}},
            {"data": {"values": [{}]}, "mark": {"type": "text", "text": "2.79%", "fontSize": 24, "align": "left", "baseline": "alphabetic"}, "encoding": {"x": {"datum": 198}, "y": {"datum": 178}}},
            {"data": {"values": [{}]}, "mark": {"type": "rule", "color": "black", "strokeWidth": 1.4}, "encoding": {"x": {"datum": 120}, "y": {"datum": 980}, "y2": {"datum": 777}}},
            {"data": {"values": [{}]}, "mark": {"type": "rule", "color": "black", "strokeWidth": 1.4}, "encoding": {"x": {"datum": 120}, "x2": {"datum": 328}, "y": {"datum": 980}}},
            {"data": {"values": [{}]}, "mark": {"type": "point", "shape": "triangle-up", "filled": true, "color": "black", "size": 55, "opacity": 1}, "encoding": {"x": {"datum": 120}, "y": {"datum": 782}}},
            {"data": {"values": [{}]}, "mark": {"type": "point", "shape": "triangle-right", "filled": true, "color": "black", "size": 55, "opacity": 1}, "encoding": {"x": {"datum": 323}, "y": {"datum": 980}}},
            {"data": {"values": [{}]}, "mark": {"type": "text", "text": "γδTCR", "fontSize": 24, "angle": 270, "align": "center", "baseline": "middle"}, "encoding": {"x": {"datum": 72}, "y": {"datum": 845}}},
            {"data": {"values": [{}]}, "mark": {"type": "text", "text": "CD3e", "fontSize": 24, "align": "center", "baseline": "middle"}, "encoding": {"x": {"datum": 250}, "y": {"datum": 1028}}}
          ]
        },
        {
          "width": 275, "height": 275,
          "view": {"stroke": "#8a8a8a", "strokeWidth": 1},
          "layer": [
            {"data": {"name": "ct"},
             "transform": [{"filter": "datum.p == 'C3'"}, {"window": [{"op": "row_number", "as": "i"}]}],
             "mark": {"type": "line", "stroke": "#3c3c3c", "strokeWidth": 0.9},
             "encoding": {
               "x": {"field": "x", "type": "quantitative", "title": null, "scale": {"domain": [158, 985], "nice": false, "zero": false},
                     "axis": {"values": [210,228,245,260,275,290,305,318,330,336,342,348,354,360,375,401,421,438,452,464,475,485,552,591,619,641,658,673,686,698,708,767,802,827,846,861,874,886,896,905,964], "labels": false, "domain": false, "tickColor": "#333", "tickWidth": 1.2,
                              "tickSize": {"condition": {"test": "indexof([485,708,905], datum.value) >= 0", "value": 7}, "value": 3.5}}},
               "y": {"field": "y", "type": "quantitative", "title": null, "scale": {"domain": [85, 910], "nice": false, "zero": false, "reverse": true},
                     "axis": {"values": [103,160,171,180,191,204,219,237,260,293,350,361,370,381,394,409,427,450,483,540,546,555,566,579,594,612,635,668,725,731,740,751,764,779,797,820,853,910], "labels": false, "domain": false, "tickColor": "#333", "tickWidth": 1.2,
                              "tickSize": {"condition": {"test": "indexof([160,350,540,725,910], datum.value) >= 0", "value": 7}, "value": 3.5}}},
               "detail": {"field": "k", "type": "nominal"},
               "order": {"field": "i", "type": "quantitative"}
             }},
            {"data": {"name": "gates"},
             "transform": [{"filter": "datum.p == 'C3'"}, {"window": [{"op": "row_number", "as": "i"}]}],
             "mark": {"type": "line", "stroke": "black", "strokeWidth": 1.8},
             "encoding": {"x": {"field": "x", "type": "quantitative", "title": null}, "y": {"field": "y", "type": "quantitative", "title": null}, "order": {"field": "i", "type": "quantitative"}}},
            {"data": {"values": [{}]}, "mark": {"type": "text", "text": "9.80%", "fontSize": 24, "align": "right", "baseline": "alphabetic"}, "encoding": {"x": {"datum": 965}, "y": {"datum": 875}}},
            {"data": {"values": [{}]}, "mark": {"type": "rule", "color": "black", "strokeWidth": 1.4}, "encoding": {"x": {"datum": 100}, "y": {"datum": 975}, "y2": {"datum": 767}}},
            {"data": {"values": [{}]}, "mark": {"type": "rule", "color": "black", "strokeWidth": 1.4}, "encoding": {"x": {"datum": 100}, "x2": {"datum": 318}, "y": {"datum": 975}}},
            {"data": {"values": [{}]}, "mark": {"type": "point", "shape": "triangle-up", "filled": true, "color": "black", "size": 55, "opacity": 1}, "encoding": {"x": {"datum": 100}, "y": {"datum": 772}}},
            {"data": {"values": [{}]}, "mark": {"type": "point", "shape": "triangle-right", "filled": true, "color": "black", "size": 55, "opacity": 1}, "encoding": {"x": {"datum": 313}, "y": {"datum": 975}}},
            {"data": {"values": [{}]}, "mark": {"type": "text", "text": "γδTCR", "fontSize": 24, "angle": 270, "align": "center", "baseline": "middle"}, "encoding": {"x": {"datum": 72}, "y": {"datum": 845}}},
            {"data": {"values": [{}]}, "mark": {"type": "text", "text": "IFN-γ", "fontSize": 24, "align": "center", "baseline": "middle"}, "encoding": {"x": {"datum": 232}, "y": {"datum": 1028}}}
          ]
        },
        {
          "width": 273, "height": 273,
          "view": {"stroke": "#8a8a8a", "strokeWidth": 1},
          "layer": [
            {"data": {"name": "ct"},
             "transform": [{"filter": "datum.p == 'D1'"}, {"window": [{"op": "row_number", "as": "i"}]}],
             "mark": {"type": "line", "stroke": "#3c3c3c", "strokeWidth": 0.9},
             "encoding": {
               "x": {"field": "x", "type": "quantitative", "title": null, "scale": {"domain": [300, 1118], "nice": false, "zero": false},
                     "axis": {"values": [300,331,362,393,424,455,486,517,548,579,610,641,672,703,734,765,796,827,858,889,920,951,982,1014,1045,1077,1108], "labels": false, "domain": false, "tickColor": "#333", "tickWidth": 1.2,
                              "tickSize": {"condition": {"test": "indexof([300,455,610,765,920,1077], datum.value) >= 0", "value": 7}, "value": 3.5}}},
               "y": {"field": "y", "type": "quantitative", "title": null, "scale": {"domain": [118, 938], "nice": false, "zero": false, "reverse": true},
                     "axis": {"values": [155,186,217,248,279,310,341,372,404,435,467,498,529,560,591,622,653,684,715,746,777,808,839,870,901,932], "labels": false, "domain": false, "tickColor": "#333", "tickWidth": 1.2,
                              "tickSize": {"condition": {"test": "indexof([155,310,467,622,777,932], datum.value) >= 0", "value": 7}, "value": 3.5}}},
               "detail": {"field": "k", "type": "nominal"},
               "order": {"field": "i", "type": "quantitative"}
             }},
            {"data": {"name": "gates"},
             "transform": [{"filter": "datum.p == 'D1'"}, {"window": [{"op": "row_number", "as": "i"}]}],
             "mark": {"type": "line", "stroke": "black", "strokeWidth": 1.8},
             "encoding": {"x": {"field": "x", "type": "quantitative", "title": null}, "y": {"field": "y", "type": "quantitative", "title": null}, "order": {"field": "i", "type": "quantitative"}}},
            {"data": {"values": [{}]}, "mark": {"type": "text", "text": "83.1%", "fontSize": 24, "align": "right", "baseline": "alphabetic"}, "encoding": {"x": {"datum": 1097}, "y": {"datum": 897}}},
            {"data": {"values": [{}]}, "mark": {"type": "rule", "color": "black", "strokeWidth": 1.4}, "encoding": {"x": {"datum": 232}, "y": {"datum": 990}, "y2": {"datum": 782}}},
            {"data": {"values": [{}]}, "mark": {"type": "rule", "color": "black", "strokeWidth": 1.4}, "encoding": {"x": {"datum": 232}, "x2": {"datum": 443}, "y": {"datum": 990}}},
            {"data": {"values": [{}]}, "mark": {"type": "point", "shape": "triangle-up", "filled": true, "color": "black", "size": 55, "opacity": 1}, "encoding": {"x": {"datum": 232}, "y": {"datum": 787}}},
            {"data": {"values": [{}]}, "mark": {"type": "point", "shape": "triangle-right", "filled": true, "color": "black", "size": 55, "opacity": 1}, "encoding": {"x": {"datum": 438}, "y": {"datum": 990}}},
            {"data": {"values": [{}]}, "mark": {"type": "text", "text": "SSC", "fontSize": 24, "angle": 270, "align": "center", "baseline": "middle"}, "encoding": {"x": {"datum": 180}, "y": {"datum": 895}}},
            {"data": {"values": [{}]}, "mark": {"type": "text", "text": "FSC", "fontSize": 24, "align": "center", "baseline": "middle"}, "encoding": {"x": {"datum": 342}, "y": {"datum": 1043}}},
            {"data": {"values": [{}]}, "mark": {"type": "text", "text": "D", "fontSize": 27, "fontWeight": "bold", "align": "left", "baseline": "top"}, "encoding": {"x": {"datum": 30}, "y": {"datum": 88}}}
          ]
        },
        {
          "width": 276, "height": 273,
          "view": {"stroke": "#8a8a8a", "strokeWidth": 1},
          "layer": [
            {"data": {"name": "ct"},
             "transform": [{"filter": "datum.p == 'D2'"}, {"window": [{"op": "row_number", "as": "i"}]}],
             "mark": {"type": "line", "stroke": "#3c3c3c", "strokeWidth": 0.9},
             "encoding": {
               "x": {"field": "x", "type": "quantitative", "title": null, "scale": {"domain": [178, 1005], "nice": false, "zero": false},
                     "axis": {"values": [198,215,228,239,249,257,265,315,345,366,382,395,406,416,424,432,482,512,533,549,562,573,583,591,598,648,678,699,715,728,739,749,757,765,815,845,866,882,895,906,916,924,932,982], "labels": false, "domain": false, "tickColor": "#333", "tickWidth": 1.2,
                              "tickSize": {"condition": {"test": "indexof([265,432,598,765,932], datum.value) >= 0", "value": 7}, "value": 3.5}}},
               "y": {"field": "y", "type": "quantitative", "title": null, "scale": {"domain": [120, 940], "nice": false, "zero": false, "reverse": true},
                     "axis": {"values": [137,187,193,201,211,222,235,251,272,302,352,361,369,379,390,403,419,440,470,520,526,534,544,555,568,584,605,635,685,693,701,711,722,735,751,772,802,852,860,868,878,889,902,918,939], "labels": false, "domain": false, "tickColor": "#333", "tickWidth": 1.2,
                              "tickSize": {"condition": {"test": "indexof([187,352,520,685,852], datum.value) >= 0", "value": 7}, "value": 3.5}}},
               "detail": {"field": "k", "type": "nominal"},
               "order": {"field": "i", "type": "quantitative"}
             }},
            {"data": {"name": "gates"},
             "transform": [{"filter": "datum.p == 'D2'"}, {"window": [{"op": "row_number", "as": "i"}]}],
             "mark": {"type": "line", "stroke": "black", "strokeWidth": 1.8},
             "encoding": {"x": {"field": "x", "type": "quantitative", "title": null}, "y": {"field": "y", "type": "quantitative", "title": null}, "order": {"field": "i", "type": "quantitative"}}},
            {"data": {"values": [{}]}, "mark": {"type": "text", "text": "3.97%", "fontSize": 24, "align": "right", "baseline": "alphabetic"}, "encoding": {"x": {"datum": 990}, "y": {"datum": 900}}},
            {"data": {"values": [{}]}, "mark": {"type": "rule", "color": "black", "strokeWidth": 1.4}, "encoding": {"x": {"datum": 125}, "y": {"datum": 995}, "y2": {"datum": 787}}},
            {"data": {"values": [{}]}, "mark": {"type": "rule", "color": "black", "strokeWidth": 1.4}, "encoding": {"x": {"datum": 125}, "x2": {"datum": 338}, "y": {"datum": 995}}},
            {"data": {"values": [{}]}, "mark": {"type": "point", "shape": "triangle-up", "filled": true, "color": "black", "size": 55, "opacity": 1}, "encoding": {"x": {"datum": 125}, "y": {"datum": 792}}},
            {"data": {"values": [{}]}, "mark": {"type": "point", "shape": "triangle-right", "filled": true, "color": "black", "size": 55, "opacity": 1}, "encoding": {"x": {"datum": 333}, "y": {"datum": 995}}},
            {"data": {"values": [{}]}, "mark": {"type": "text", "text": "B8R", "fontSize": 24, "angle": 270, "align": "center", "baseline": "middle"}, "encoding": {"x": {"datum": 72}, "y": {"datum": 905}}},
            {"data": {"values": [{}]}, "mark": {"type": "text", "text": "CD8", "fontSize": 24, "align": "center", "baseline": "middle"}, "encoding": {"x": {"datum": 225}, "y": {"datum": 1038}}}
          ]
        },
        {
          "width": 273, "height": 273,
          "view": {"stroke": "#8a8a8a", "strokeWidth": 1},
          "layer": [
            {"data": {"name": "ct"},
             "transform": [{"filter": "datum.p == 'D3'"}, {"window": [{"op": "row_number", "as": "i"}]}],
             "mark": {"type": "line", "stroke": "#3c3c3c", "strokeWidth": 0.9},
             "encoding": {
               "x": {"field": "x", "type": "quantitative", "title": null, "scale": {"domain": [152, 970], "nice": false, "zero": false},
                     "axis": {"values": [200,215,230,245,258,270,282,295,305,315,320,325,330,335,345,360,375,390,405,420,432,445,455,462,470,533,570,597,617,634,648,660,671,690,752,788,813,833,850,863,875,886,895,957], "labels": false, "domain": false, "tickColor": "#333", "tickWidth": 1.2,
                              "tickSize": {"condition": {"test": "indexof([470,690,895], datum.value) >= 0", "value": 7}, "value": 3.5}}},
               "y": {"field": "y", "type": "quantitative", "title": null, "scale": {"domain": [123, 943], "nice": false, "zero": false, "reverse": true},
                     "axis": {"values": [140,190,196,204,214,225,238,254,275,305,355,361,369,379,390,403,419,440,470,520,526,534,544,555,568,585,606,637,687,695,703,713,724,737,753,774,804,852,860,868,878,889,902,918,938], "labels": false, "domain": false, "tickColor": "#333", "tickWidth": 1.2,
                              "tickSize": {"condition": {"test": "indexof([190,355,520,687,852], datum.value) >= 0", "value": 7}, "value": 3.5}}},
               "detail": {"field": "k", "type": "nominal"},
               "order": {"field": "i", "type": "quantitative"}
             }},
            {"data": {"name": "gates"},
             "transform": [{"filter": "datum.p == 'D3'"}, {"window": [{"op": "row_number", "as": "i"}]}],
             "mark": {"type": "line", "stroke": "black", "strokeWidth": 1.5},
             "encoding": {"x": {"field": "x", "type": "quantitative", "title": null}, "y": {"field": "y", "type": "quantitative", "title": null}, "order": {"field": "i", "type": "quantitative"}}},
            {"data": {"values": [{}]}, "mark": {"type": "text", "text": "23.8%", "fontSize": 24, "align": "right", "baseline": "alphabetic"}, "encoding": {"x": {"datum": 958}, "y": {"datum": 893}}},
            {"data": {"values": [{}]}, "mark": {"type": "rule", "color": "black", "strokeWidth": 1.4}, "encoding": {"x": {"datum": 105}, "y": {"datum": 995}, "y2": {"datum": 787}}},
            {"data": {"values": [{}]}, "mark": {"type": "rule", "color": "black", "strokeWidth": 1.4}, "encoding": {"x": {"datum": 105}, "x2": {"datum": 318}, "y": {"datum": 995}}},
            {"data": {"values": [{}]}, "mark": {"type": "point", "shape": "triangle-up", "filled": true, "color": "black", "size": 55, "opacity": 1}, "encoding": {"x": {"datum": 105}, "y": {"datum": 792}}},
            {"data": {"values": [{}]}, "mark": {"type": "point", "shape": "triangle-right", "filled": true, "color": "black", "size": 55, "opacity": 1}, "encoding": {"x": {"datum": 313}, "y": {"datum": 995}}},
            {"data": {"values": [{}]}, "mark": {"type": "text", "text": "CD8", "fontSize": 24, "angle": 270, "align": "center", "baseline": "middle"}, "encoding": {"x": {"datum": 52}, "y": {"datum": 903}}},
            {"data": {"values": [{}]}, "mark": {"type": "text", "text": "IFN-γ", "fontSize": 24, "align": "center", "baseline": "middle"}, "encoding": {"x": {"datum": 225}, "y": {"datum": 1043}}}
          ]
        }
      ]
    }
  ]
}
